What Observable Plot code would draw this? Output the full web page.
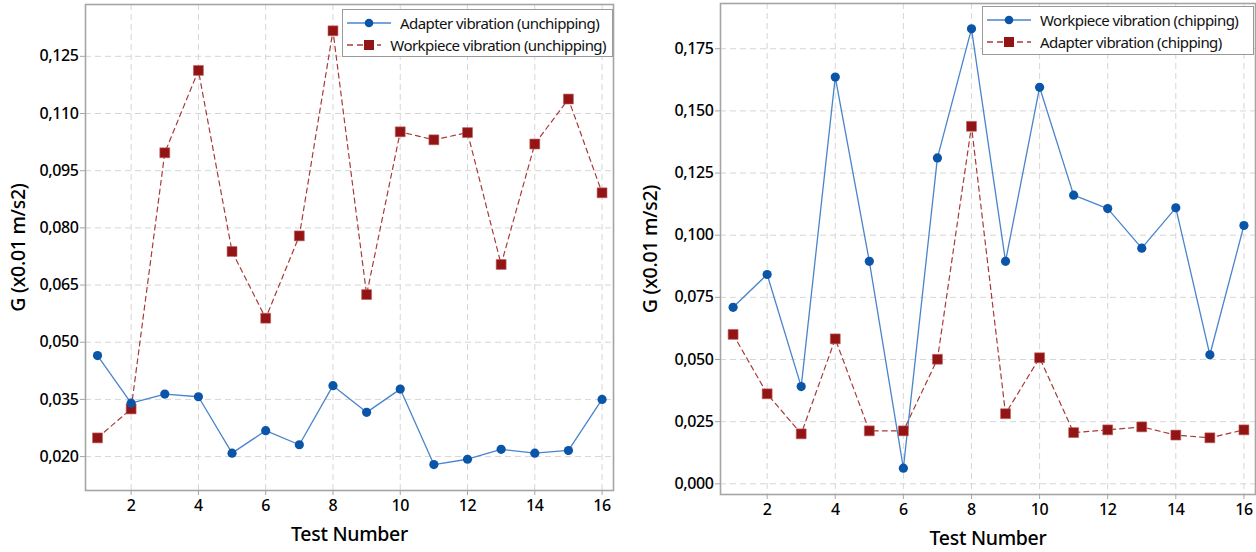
<!DOCTYPE html>
<html>
<head>
<meta charset="utf-8">
<script src="https://cdn.jsdelivr.net/npm/d3@7"></script>
<script src="https://cdn.jsdelivr.net/npm/@observablehq/plot@0.6"></script>
<style>
  html, body { margin: 0; padding: 0; background: #fff; }
  #wrap { display: flex; width: 1256px; height: 552px; }
  .panel { position: relative; }
  .panel svg { font-family: "Noto Sans", sans-serif; }
  g[aria-label="y-axis tick label"] text, g[aria-label="x-axis tick label"] text { font-weight: 500; letter-spacing: -0.4px; }
  g[aria-label="y-axis label"], g[aria-label="x-axis label"] { font-size: 19.5px; font-weight: 500; letter-spacing: -0.3px; }
  .legend { position: absolute; background: #fff; border: 1px solid #9a9a9a;
    font-family: "Noto Sans", sans-serif; font-size: 15px; letter-spacing: -0.55px; color: #111; padding: 2px 6px 3px 4px; box-sizing: border-box; }
  .legend .row { display: flex; align-items: center; height: 22px; white-space: nowrap; }
  .legend svg { margin-right: 9px; }
</style>
</head>
<body>
<div id="wrap"></div>
<script>
// Test numbers
const tests = [1,2,3,4,5,6,7,8,9,10,11,12,13,14,15,16];

// Left panel (unchipping)
const adapterUnchipping  = [0.0465,0.0340,0.0364,0.0357,0.0209,0.0268,0.0231,0.0386,0.0316,0.0377,0.0179,0.0193,0.0219,0.0209,0.0216,0.0350];
const workpieceUnchipping = [0.0249,0.0325,0.0997,0.1213,0.0738,0.0563,0.0779,0.1317,0.0625,0.1052,0.1031,0.1050,0.0704,0.1020,0.1138,0.0892];

// Right panel (chipping)
const workpieceChipping = [0.0710,0.0842,0.0391,0.1636,0.0895,0.0063,0.1311,0.1830,0.0895,0.1595,0.1161,0.1107,0.0948,0.1110,0.0519,0.1039];
const adapterChipping   = [0.0601,0.0362,0.0201,0.0583,0.0213,0.0213,0.0501,0.1438,0.0282,0.0507,0.0206,0.0217,0.0229,0.0196,0.0185,0.0217];

// Tick labels
const xTicks = [2,4,6,8,10,12,14,16];
const yTicksLeft = [0.020,0.035,0.050,0.065,0.080,0.095,0.110,0.125];
const yTicksRight = [0.000,0.025,0.050,0.075,0.100,0.125,0.150,0.175];

const yLabel = "G (x0.01 m/s2)";
const xLabel = "Test Number";
const legendLeft = ["Adapter vibration (unchipping)", "Workpiece vibration (unchipping)"];
const legendRight = ["Workpiece vibration (chipping)", "Adapter vibration (chipping)"];

const BLUE = "#0a55a8", BLUE_LINE = "#4a84cc", RED = "#931414", RED_LINE = "#a83a3a";
const fmt = d => d.toFixed(3).replace(".", ",");

function panel({width, marginLeft, marginRight, marginTop, marginBottom, xDomain, yDomain, yTicks, blue, red, yLabelOffset}) {
  const blueData = tests.map((t, i) => ({t, v: blue[i]}));
  const redData = tests.map((t, i) => ({t, v: red[i]}));
  return Plot.plot({
    width, height: 552, marginLeft, marginRight, marginTop, marginBottom,
    style: {fontSize: "16px", color: "#000", background: "#fff"},
    x: {domain: xDomain},
    y: {domain: yDomain},
    marks: [
      Plot.gridX(xTicks, {stroke: "#d6d6d6", strokeOpacity: 1, strokeDasharray: "6,4"}),
      Plot.gridY(yTicks, {stroke: "#d6d6d6", strokeOpacity: 1, strokeDasharray: "6,4"}),
      Plot.frame({stroke: "#a5a5a5", strokeWidth: 1.6}),
      Plot.axisX(xTicks, {tickSize: 5, tickPadding: 4, stroke: "#a5a5a5", fill: "#000", label: xLabel, labelArrow: "none", labelAnchor: "center", labelOffset: 50}),
      Plot.axisY(yTicks, {tickSize: 5, tickPadding: 2, stroke: "#a5a5a5", fill: "#000", tickFormat: fmt, label: yLabel, labelArrow: "none", labelAnchor: "center", labelOffset: yLabelOffset}),
      Plot.line(redData, {x: "t", y: "v", stroke: RED_LINE, strokeWidth: 1.2, strokeDasharray: "5,4"}),
      Plot.line(blueData, {x: "t", y: "v", stroke: BLUE_LINE, strokeWidth: 1.3}),
      Plot.dot(redData, {x: "t", y: "v", symbol: "square", r: 5.6, fill: RED, stroke: "#c06060", strokeWidth: 0.6}),
      Plot.dot(blueData, {x: "t", y: "v", r: 4.6, fill: BLUE})
    ]
  });
}

function legend(labels, order, pos) {
  const div = document.createElement("div");
  div.className = "legend";
  Object.assign(div.style, pos);
  labels.forEach((lab, i) => {
    const kind = order[i];
    const row = document.createElement("div");
    row.className = "row";
    const sample = kind === "blue"
      ? `<svg width="44" height="12"><line x1="0" y1="6" x2="44" y2="6" stroke="${BLUE_LINE}" stroke-width="1.4"/><circle cx="22" cy="6" r="4.3" fill="${BLUE}"/></svg>`
      : `<svg width="44" height="12"><line x1="0" y1="6" x2="44" y2="6" stroke="${RED_LINE}" stroke-width="1.3" stroke-dasharray="6,4"/><rect x="17" y="1" width="10" height="10" fill="${RED}"/></svg>`;
    row.innerHTML = sample + `<span>${lab}</span>`;
    div.appendChild(row);
  });
  return div;
}

const wrap = document.getElementById("wrap");

const left = document.createElement("div");
left.className = "panel";
left.appendChild(panel({
  width: 628, marginLeft: 85, marginRight: 15, marginTop: 4, marginBottom: 62,
  xDomain: [0.643, 16.34], yDomain: [0.0111, 0.1386], yTicks: yTicksLeft,
  blue: adapterUnchipping, red: workpieceUnchipping, yLabelOffset: 74
}));
left.appendChild(legend(legendLeft, ["blue", "red"], {left: "342px", top: "9px", width: "271px", height: "48px"}));
wrap.appendChild(left);

const right = document.createElement("div");
right.className = "panel";
right.appendChild(panel({
  width: 628, marginLeft: 92, marginRight: 1, marginTop: 3, marginBottom: 58,
  xDomain: [0.63, 16.34], yDomain: [-0.0043, 0.1932], yTicks: yTicksRight,
  blue: workpieceChipping, red: adapterChipping, yLabelOffset: 77
}));
right.appendChild(legend(legendRight, ["blue", "red"], {left: "354px", top: "6px", width: "272px", height: "49px"}));
wrap.appendChild(right);
</script>
</body>
</html>
